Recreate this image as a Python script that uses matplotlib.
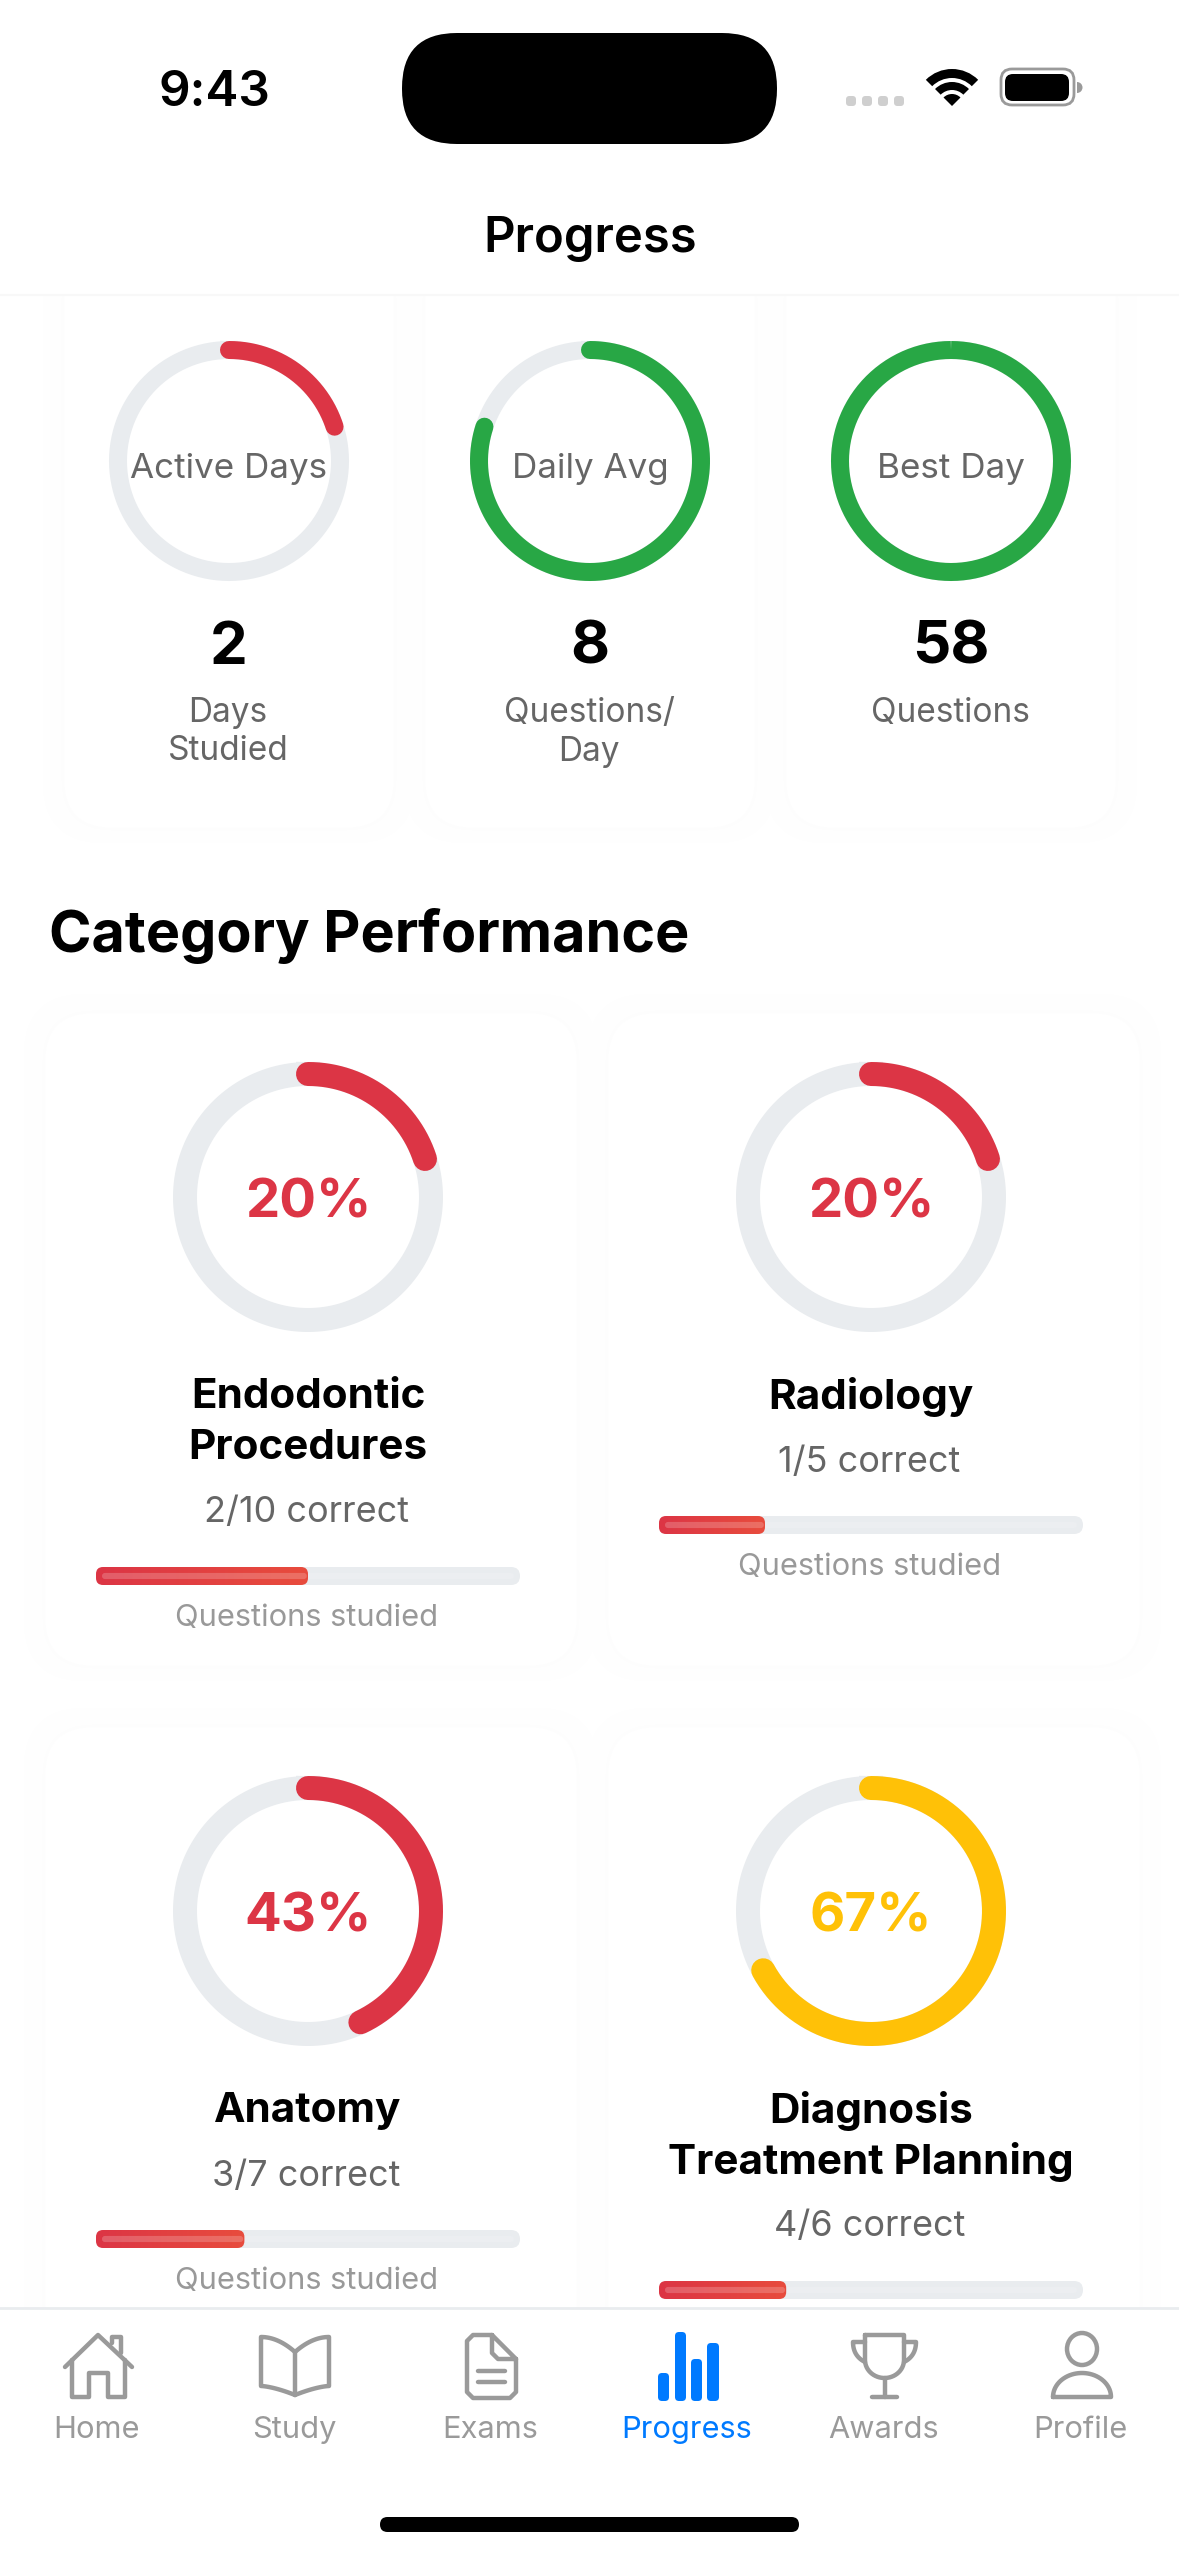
import numpy as np
import matplotlib
matplotlib.use("Agg")
import matplotlib.pyplot as plt
from matplotlib.patches import FancyBboxPatch, Wedge, Ellipse, Rectangle

plt.rcParams['font.family'] = ['Inter', 'DejaVu Sans']

# ---------- data ----------
summary_labels = ["Active Days", "Daily Avg", "Best Day"]
summary_values = ["2", "8", "58"]
summary_units = ["Days\nStudied", "Questions/\nDay", "Questions"]
summary_fill = [20, 80, 100]
summary_colors = ["#dc3545", "#28a745", "#28a745"]

category_names = ["Endodontic\nProcedures", "Radiology", "Anatomy", "Diagnosis\nTreatment Planning"]
category_correct = ["2/10 correct", "1/5 correct", "3/7 correct", "4/6 correct"]
category_pct = [20, 20, 43, 67]
category_studied = [50, 25, 35, 30]
category_colors = ["#dc3545", "#dc3545", "#dc3545", "#ffc107"]

tab_labels = ["Home", "Study", "Exams", "Progress", "Awards", "Profile"]
tab_active = "Progress"

# ---------- layout ----------
W, H = 1179, 2556
TRACK = "#e9ecef"
fig = plt.figure(figsize=(W / 100, H / 100), dpi=100, facecolor="white")
ui = fig.add_axes([0, 0, 1, 1], zorder=0)
ui.set_xlim(0, W); ui.set_ylim(H, 0); ui.axis("off")
top = fig.add_axes([0, 0, 1, 1], zorder=20)
top.set_xlim(0, W); top.set_ylim(H, 0); top.axis("off")
top.patch.set_alpha(0)


def px(v):
    return v * 0.72


def txt(ax, x, y, s, size, color="black", weight="normal", **kw):
    return ax.text(x, y, s, fontsize=px(size), color=color, fontweight=weight,
                   ha="center", va="center", **kw)


def rbox(ax, x0, y0, x1, y1, r, **kw):
    p = FancyBboxPatch((x0 + r, y0 + r), x1 - x0 - 2 * r, y1 - y0 - 2 * r,
                       boxstyle=f"round,pad={r},rounding_size={r}", **kw)
    ax.add_patch(p)
    return p


def card(x0, y0, x1, y1):
    rbox(ui, x0 - 20, y0 - 18, x1 + 20, y1 + 14, 62, fc="#fefefe", ec="none", zorder=0)
    rbox(ui, x0, y0, x1, y1, 50, fc="#ffffff", ec="#fdfdfd", lw=1.5, zorder=1)


def ring(cx, cy, outer, stroke_w, pct, color):
    R = outer + 10
    ax = fig.add_axes([(cx - R) / W, 1 - (cy + R) / H, 2 * R / W, 2 * R / H],
                      projection="polar", zorder=5)
    ax.set_theta_zero_location("N"); ax.set_theta_direction(-1)
    ax.set_ylim(0, R); ax.axis("off"); ax.patch.set_alpha(0)
    r = outer - stroke_w / 2
    th = np.linspace(0, 2 * np.pi, 361)
    ax.plot(th, np.full_like(th, r), color=TRACK, lw=px(stroke_w))
    th = np.linspace(0, 2 * np.pi * pct / 100, 361)
    ax.plot(th, np.full_like(th, r), color=color, lw=px(stroke_w),
            solid_capstyle="butt" if pct >= 100 else "round")


def bar(x0, y0, x1, y1, pct):
    h = y1 - y0
    w = x1 - x0
    ax = fig.add_axes([x0 / W, 1 - y1 / H, w / W, h / H], zorder=5)
    ax.axis("off"); ax.patch.set_alpha(0)
    ux = w / 100

    def box(a, b, c, d, rad_px, **kw):
        rs = rad_px / ux
        asp = (1 / h) * ux
        p = FancyBboxPatch((a + rs, c + rs * asp), b - a - 2 * rs, d - c - 2 * rs * asp,
                           boxstyle=f"round,pad={rs},rounding_size={rs}",
                           mutation_aspect=asp, **kw)
        ax.add_patch(p)
        return p
    box(0, 100, 0, 1, h / 2, fc=TRACK, ec="none")
    inset = 6 / ux
    box(inset, 100 - inset, 0.33, 0.67, 3, fc="#ecEef1", ec="none")
    grad = np.linspace(0, 1, 256)[None, :, None]
    c0, c1 = np.array([0xdc, 0x35, 0x45]) / 255, np.array([0xe8, 0x4c, 0x3d]) / 255
    img = c0 + (c1 - c0) * grad
    im = ax.imshow(img, extent=(0, pct, 0, 1), aspect="auto", zorder=2)
    clip = box(0, pct, 0, 1, 7, fc="none", ec="none", zorder=1)
    im.set_clip_path(clip)
    box(inset, pct - 0.2 * inset, 0.33, 0.67, 3, fc="white", alpha=0.2, ec="none", zorder=3)
    ax.set_xlim(0, 100); ax.set_ylim(0, 1)


# ---------- status bar ----------
txt(ui, 214, 93, "9:43", 49.5, weight="semibold", zorder=9)
rbox(ui, 402, 33, 777, 144, 55, fc="black", ec="none", zorder=3)
for x in (851, 867, 883, 899):
    rbox(ui, x - 5, 96, x + 5, 106, 3.5, fc="#cfcfcf", ec="none", zorder=3)
# wifi
for r0, w0 in ((37, 9), (24, 8), (12, 12)):
    ui.add_patch(Wedge((952, 106), r0, 225, 315, width=w0, fc="black", ec="none", zorder=3))
# battery
rbox(ui, 1001, 69, 1074, 105, 11, fc="white", ec="#9a9a9a", lw=2.0, zorder=3)
rbox(ui, 1005, 74, 1069, 101, 8, fc="black", ec="none", zorder=4)
ui.add_patch(Wedge((1077, 87.5), 5.5, -90, 90, fc="#9a9a9a", ec="none", zorder=3))

# header
txt(ui, 590, 239, "Progress", 49, weight="semibold", zorder=9)

# ---------- summary cards ----------
sum_x = [229, 590, 951]
for x, lab, val, unit, fill, col in zip(sum_x, summary_labels, summary_values,
                                        summary_units, summary_fill, summary_colors):
    card(x - 166, 250, x + 166, 829)
    ring(x, 461, 120, 18, fill, col)
    txt(ui, x, 469, lab, 35, color="#666666", zorder=7)
    txt(ui, x, 648, val, 60, weight="bold", zorder=7)
    for i, line in enumerate(unit.split("\n")):
        txt(ui, x - 1, 713 + 38.5 * i, line, 33.4, color="#666666", zorder=7)
# white mask above scrolled cards + header separator
ui.add_patch(Rectangle((0, 0), W, 296, fc="white", ec="none", zorder=2))
ui.plot([0, W], [295, 295], color="#f8f8f8", lw=1.5, zorder=2)

ui.text(49, 936, "Category Performance", fontsize=px(57.5), fontweight="bold",
        ha="left", va="center", color="black", zorder=7)

# ---------- category cards ----------
cat_x = [308, 871, 308, 871]
cat_y = [1197, 1197, 1911, 1911]
for i, (x, cy) in enumerate(zip(cat_x, cat_y)):
    card(x - 264, cy - 185, x + 270, cy + 470)
    ring(x, cy, 135, 24, category_pct[i], category_colors[i])
    txt(ui, x, cy + 6, f"{category_pct[i]}%", 54.5, color=category_colors[i], weight="bold", zorder=7)
    y = cy + 200
    for ln in category_names[i].split("\n"):
        txt(ui, x, y, ln, 42.2, weight="bold", zorder=7)
        y += 51
    y = y - 51 + 65
    txt(ui, x - 1.5, y, category_correct[i], 36, color="#666666", zorder=7)
    by = y + 63
    bar(x - 212, by - 9, x + 212, by + 9, category_studied[i])
    txt(ui, x - 1, by + 42, "Questions studied", 30.8, color="#999999", zorder=7)

# ---------- tab bar ----------
top.add_patch(Rectangle((0, 2308), W, H - 2308, fc="white", ec="none", zorder=1))
top.plot([0, W], [2308, 2308], color=TRACK, lw=2, zorder=2)
tab_x = [97, 294, 490, 687, 884, 1080]
GREY = "#9a9a9a"
BLUE = "#007aff"
for x, lab in zip(tab_x, tab_labels):
    txt(top, x, 2430, lab, 30.8, color=BLUE if lab == tab_active else GREY, zorder=3)


def stroke(xs, ys, lw=3.2, color=GREY):
    top.plot(xs, ys, color=color, lw=lw, solid_capstyle="round",
             solid_joinstyle="round", zorder=3)


# home
stroke([65, 98, 132], [2367, 2335, 2367])
stroke([72, 72, 89, 89, 108, 108, 125, 125], [2360, 2397, 2397, 2373, 2373, 2397, 2397, 2360])
stroke([112, 112, 121, 121], [2343, 2337, 2337, 2353])
# study (open book)
x = 295
u = np.linspace(0, 1, 25)
for s in (-1, 1):
    stroke(x + s * np.concatenate([34 * u, [34], 34 * (1 - u)]),
           np.concatenate([2352 - 15 * (1 - (1 - u) ** 2), [2386], 2386 + 9 * u ** 1.5]))
stroke([x, x], [2352, 2395])
# exams (document)
stroke([492, 473, 467, 467, 473, 510, 516, 516, 492, 492, 498, 516],
       [2335, 2335, 2341, 2392, 2398, 2398, 2392, 2359, 2335, 2353, 2359, 2359])
stroke([478, 505], [2371, 2371])
stroke([478, 505], [2382, 2382])
# progress icon
for xa, xb, ytop in ((658, 669, 2373), (675, 686, 2332), (691, 702, 2359), (707, 719, 2343)):
    rbox(top, xa, ytop, xb, 2401, 4, fc=BLUE, ec="none", zorder=3)
# awards (trophy)
u = np.linspace(np.pi, 0, 30)
stroke(np.concatenate([[865, 865], 884.5 + 19.5 * np.cos(u), [904, 904, 865]]),
       np.concatenate([[2335, 2360], 2360 + 18 * np.sin(u), [2360, 2335, 2335]]))
stroke([884.5, 884.5], [2378, 2397])
stroke([872, 897], [2397, 2397])
t = np.linspace(0, 1, 20)
hx = (1 - t) ** 2 * 12 + 2 * t * (1 - t) * 12
hy = 2 * t * (1 - t) * 14 + t ** 2 * 20
stroke(np.concatenate([[865], 865 - hx]), np.concatenate([[2342], 2342 + hy]))
stroke(np.concatenate([[904], 904 + hx]), np.concatenate([[2342], 2342 + hy]))
# profile
top.add_patch(Ellipse((1082, 2349), 30, 32, fc="none", ec=GREY, lw=3.2, zorder=3))
u = np.linspace(np.pi, 0, 40)
stroke(np.concatenate([1082 + 29 * np.cos(u), [1053]]),
       np.concatenate([2397 - 24 * np.sin(u), [2397]]))

# home indicator
rbox(top, 380, 2517, 799, 2532, 7.5, fc="black", ec="none", zorder=3)

fig.savefig("out.png", dpi=100)
